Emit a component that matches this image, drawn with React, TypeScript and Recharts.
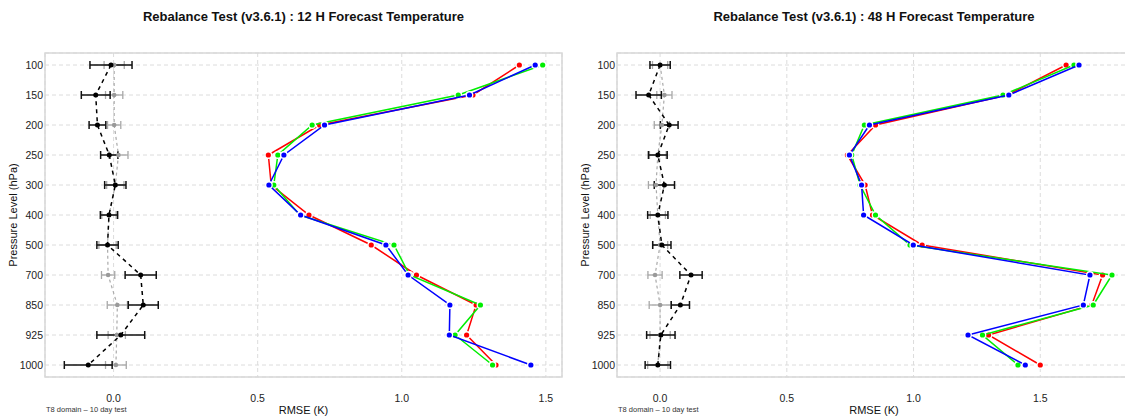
import { ScatterChart, Scatter, XAxis, YAxis, CartesianGrid, ErrorBar, ReferenceArea } from "recharts";

const LEVELS = ["100", "150", "200", "250", "300", "400", "500", "700", "850", "925", "1000"];
const X_TICKS = [0, 0.5, 1, 1.5];

// 12 H forecast RMSE
const red12 = [1.408, 1.247, 0.715, 0.537, 0.547, 0.678, 0.894, 1.051, 1.258, 1.225, 1.327];
const green12 = [1.489, 1.196, 0.689, 0.57, 0.556, 0.646, 0.973, 1.027, 1.273, 1.185, 1.315];
const blue12 = [1.463, 1.235, 0.732, 0.591, 0.539, 0.649, 0.945, 1.022, 1.167, 1.165, 1.448];
// 12 H differences
const black12 = [-0.009, -0.062, -0.056, -0.015, 0.006, -0.016, -0.021, 0.094, 0.103, 0.025, -0.088];
const black12Err = [0.073, 0.05, 0.029, 0.03, 0.037, 0.03, 0.037, 0.054, 0.052, 0.083, 0.083];
const grey12 = [0.002, 0.002, 0.002, 0.017, 0.006, -0.016, -0.021, -0.019, 0.013, 0.011, 0.008];
const grey12Err = [0.035, 0.03, 0.023, 0.033, 0.03, 0.025, 0.03, 0.023, 0.035, 0.03, 0.036];

// 48 H forecast RMSE
const red48 = [1.602, 1.37, 0.85, 0.739, 0.809, 0.838, 1.034, 1.746, 1.703, 1.296, 1.5];
const green48 = [1.633, 1.353, 0.806, 0.756, 0.789, 0.85, 0.986, 1.783, 1.709, 1.272, 1.412];
const blue48 = [1.653, 1.376, 0.826, 0.747, 0.795, 0.803, 0.999, 1.696, 1.67, 1.215, 1.441];
// 48 H differences
const black48 = [0.0, -0.045, 0.036, -0.009, 0.017, -0.009, 0.007, 0.122, 0.08, 0.003, -0.009];
const black48Err = [0.04, 0.05, 0.035, 0.037, 0.04, 0.04, 0.036, 0.044, 0.036, 0.056, 0.05];
const grey48 = [0.0, 0.017, 0.007, -0.009, -0.016, -0.009, 0.0, -0.02, 0.0, 0.0, -0.009];
const grey48Err = [0.03, 0.03, 0.03, 0.033, 0.03, 0.03, 0.03, 0.028, 0.043, 0.04, 0.04];

const FONT = "'Liberation Sans', Arial, Helvetica, sans-serif";

function toPoints(values: number[], errs?: number[]) {
  return values.map((v, i) => ({ lev: i + 1, v, err: errs ? errs[i] : 0 }));
}

const dot = (color: string, r: number, ring: boolean) => (props: any) => (
  <circle
    cx={props.cx}
    cy={props.cy}
    r={r}
    fill={color}
    stroke={ring ? "#fff" : "none"}
    strokeWidth={ring ? 2.6 : 0}
    paintOrder="stroke"
  />
);

interface PanelProps {
  left: number;
  width: number;
  title: string;
  xMin: number;
  xMax: number;
  red: number[];
  green: number[];
  blue: number[];
  black: number[];
  blackErr: number[];
  grey: number[];
  greyErr: number[];
}

function Panel({ left, width, title, xMin, xMax, red, green, blue, black, blackErr, grey, greyErr }: PanelProps) {
  return (
    <div style={{ position: "absolute", left, top: 0, width, height: 416, fontFamily: FONT }}>
      <div
        style={{
          position: "absolute",
          left: 45,
          width: width - 53,
          top: 9,
          textAlign: "center",
          fontWeight: "bold",
          fontSize: 13,
          lineHeight: "16px",
          color: "#111",
        }}
      >
        {title}
      </div>
      <ScatterChart width={width} height={416} margin={{ top: 53, right: 8, bottom: 0, left: 5 }}>
        <CartesianGrid strokeDasharray="4 3" stroke="#dcdcdc" />
        <ReferenceArea
          x1={xMin}
          x2={xMax}
          y1={0.6}
          y2={11.4}
          fill="none"
          fillOpacity={0}
          stroke="#d8d8d8"
          strokeWidth={1.5}
          ifOverflow="visible"
        />
        <XAxis
          type="number"
          dataKey="v"
          domain={[xMin, xMax]}
          allowDataOverflow
          ticks={X_TICKS}
          interval={0}
          tickFormatter={(v: number) => v.toFixed(1)}
          axisLine={false}
          tickLine={false}
          tickSize={0}
          tickMargin={18}
          height={39}
          tick={{ fill: "#222", fontSize: 10.5, fontFamily: FONT }}
          label={{ value: "RMSE (K)", position: "insideBottom", offset: 2, fill: "#111", fontSize: 11, fontFamily: FONT }}
        />
        <YAxis
          type="number"
          dataKey="lev"
          domain={[0.6, 11.4]}
          allowDataOverflow
          reversed
          ticks={[1, 2, 3, 4, 5, 6, 7, 8, 9, 10, 11]}
          interval={0}
          tickFormatter={(v: number) => LEVELS[v - 1]}
          axisLine={false}
          tickLine={false}
          tickSize={0}
          tickMargin={2}
          width={40}
          tick={{ fill: "#222", fontSize: 10.5, fontFamily: FONT }}
          label={{
            value: "Pressure Level (hPa)",
            angle: -90,
            position: "insideLeft",
            offset: 8,
            fill: "#111",
            fontSize: 11,
            fontFamily: FONT,
            style: { textAnchor: "middle" },
          }}
        />
        <Scatter
          data={toPoints(grey, greyErr)}
          line={{ stroke: "#aaaaaa", strokeWidth: 1.2, strokeDasharray: "3 3" }}
          shape={dot("#9a9a9a", 2.3, false)}
          isAnimationActive={false}
        >
          <ErrorBar dataKey="err" direction="x" width={4} stroke="#a8a8a8" strokeWidth={1.3} isAnimationActive={false} />
        </Scatter>
        <Scatter
          data={toPoints(black, blackErr)}
          line={{ stroke: "#000", strokeWidth: 1.5, strokeDasharray: "4 4" }}
          shape={dot("#000", 2.5, false)}
          isAnimationActive={false}
        >
          <ErrorBar dataKey="err" direction="x" width={4} stroke="#111" strokeWidth={1.5} isAnimationActive={false} />
        </Scatter>
        <Scatter
          data={toPoints(red)}
          line={{ stroke: "#ff0000", strokeWidth: 1.5 }}
          shape={dot("#ff0000", 2.6, true)}
          isAnimationActive={false}
        />
        <Scatter
          data={toPoints(green)}
          line={{ stroke: "#00ee00", strokeWidth: 1.5 }}
          shape={dot("#00ee00", 2.6, true)}
          isAnimationActive={false}
        />
        <Scatter
          data={toPoints(blue)}
          line={{ stroke: "#0000ff", strokeWidth: 1.5 }}
          shape={dot("#0000ff", 2.6, true)}
          isAnimationActive={false}
        />
      </ScatterChart>
      <div style={{ position: "absolute", left: 46, top: 405, fontSize: 7.5, color: "#333", whiteSpace: "nowrap" }}>
        T8 domain – 10 day test
      </div>
    </div>
  );
}

export default function App() {
  return (
    <div style={{ position: "absolute", left: 0, top: 0, width: 1125, height: 416, overflow: "hidden", background: "#fff" }}>
      <Panel
        left={0}
        width={570}
        title="Rebalance Test (v3.6.1) : 12 H Forecast Temperature"
        xMin={-0.238}
        xMax={1.556}
        red={red12}
        green={green12}
        blue={blue12}
        black={black12}
        blackErr={black12Err}
        grey={grey12}
        greyErr={grey12Err}
      />
      <Panel
        left={572}
        width={567}
        title="Rebalance Test (v3.6.1) : 48 H Forecast Temperature"
        xMin={-0.17}
        xMax={1.858}
        red={red48}
        green={green48}
        blue={blue48}
        black={black48}
        blackErr={black48Err}
        grey={grey48}
        greyErr={grey48Err}
      />
    </div>
  );
}
